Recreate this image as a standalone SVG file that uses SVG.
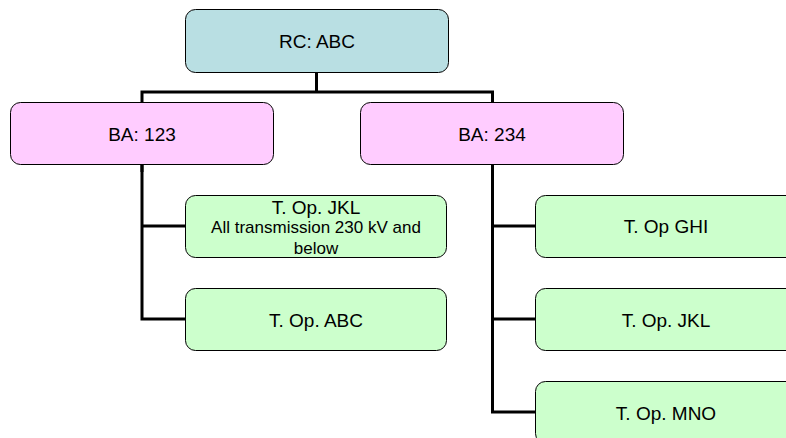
<svg xmlns="http://www.w3.org/2000/svg" width="786" height="438" viewBox="0 0 786 438">
<style>
.box{stroke:#000;stroke-width:1}
.rc{fill:#B9DFE3}
.ba{fill:#FFCCFF}
.op{fill:#CCFFCC}
text{font-family:"Liberation Sans",Arial,sans-serif;font-size:19px;fill:#000;text-anchor:middle}
.sub{font-size:17px}
.conn{stroke:#000;stroke-width:3;fill:none}
</style>
<rect width="786" height="438" fill="#fff"/>
<g id="connectors">
<polyline class="conn" points="316.5,72 316.5,92"/>
<polyline class="conn" points="142,172 142,92 492.5,92 492.5,102"/>
<polyline class="conn" points="142,164 142,319 185,319"/>
<polyline class="conn" points="142,226 185,226"/>
<polyline class="conn" points="492.5,164 492.5,412 536,412"/>
<polyline class="conn" points="492.5,226 536,226"/>
<polyline class="conn" points="492.5,319 536,319"/>
</g>
<g id="rc-abc">
<rect class="box rc" x="185.5" y="9.5" width="263" height="63" rx="10"/>
<text x="317" y="48">RC: ABC</text>
</g>
<g id="ba-123">
<rect class="box ba" x="10.5" y="102.5" width="263" height="62" rx="10"/>
<text x="142" y="141">BA: 123</text>
</g>
<g id="ba-234">
<rect class="box ba" x="360.5" y="102.5" width="263" height="62" rx="10"/>
<text x="492" y="141">BA: 234</text>
</g>
<g id="top-jkl-left">
<rect class="box op" x="185.5" y="195.5" width="261" height="62" rx="10"/>
<text x="316" y="214">T. Op. JKL</text>
<text class="sub" x="316" y="233">All transmission 230 kV and</text>
<text class="sub" x="316" y="254">below</text>
</g>
<g id="top-abc">
<rect class="box op" x="185.5" y="288.5" width="261" height="62" rx="10"/>
<text x="316" y="326.5">T. Op. ABC</text>
</g>
<g id="top-ghi">
<rect class="box op" x="535.5" y="195.5" width="262" height="62" rx="10"/>
<text x="666" y="233">T. Op GHI</text>
</g>
<g id="top-jkl-right">
<rect class="box op" x="535.5" y="288.5" width="262" height="62" rx="10"/>
<text x="666" y="326.5">T. Op. JKL</text>
</g>
<g id="top-mno">
<rect class="box op" x="535.5" y="381.5" width="262" height="62" rx="10"/>
<text x="666" y="419.5">T. Op. MNO</text>
</g>
</svg>
